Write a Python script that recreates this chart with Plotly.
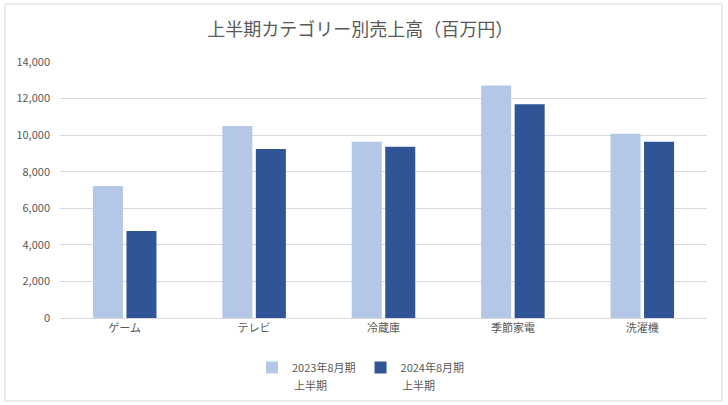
import plotly.graph_objects as go

categories = ["ゲーム", "テレビ", "冷蔵庫", "季節家電", "洗濯機"]
series_names = ["2023年8月期", "2024年8月期"]
series_subnames = ["上半期", "上半期"]
values_2023 = [7220, 10500, 9640, 12710, 10070]
values_2024 = [4760, 9240, 9370, 11690, 9640]
y_ticks = [0, 2000, 4000, 6000, 8000, 10000, 12000, 14000]

FONT = "Noto Sans CJK JP"
GREY = "#595959"

fig = go.Figure()
fig.add_trace(go.Bar(x=categories, y=values_2023, name=series_names[0],
                     marker=dict(color="#B4C7E7", line=dict(width=0))))
fig.add_trace(go.Bar(x=categories, y=values_2024, name=series_names[1],
                     marker=dict(color="#2F5597", line=dict(width=0))))

W, H = 728, 405
L, R, T, B = 60, 21, 62, 87
pw, ph = W - L - R, H - T - B

def px_x(x):
    return (x - L) / pw

def px_y(y):
    return (H - B - y) / ph

# second line of each legend label, placed under the legend text
sub_x = [292, 400]
annotations = [dict(text=s, xref="paper", yref="paper", x=px_x(xp), y=px_y(385),
                    xanchor="left", yanchor="middle", showarrow=False,
                    font=dict(family=FONT, size=11, color=GREY))
               for s, xp in zip(series_subnames, sub_x)]

fig.update_layout(
    width=W, height=H,
    margin=dict(l=L, r=R, t=T, b=B, autoexpand=False),
    paper_bgcolor="white", plot_bgcolor="white",
    font=dict(family=FONT, color=GREY, size=11),
    barmode="group", bargap=0.482, bargroupgap=0.104,
    title=dict(text="上半期カテゴリー別売上高（百万円）", x=0.495, xanchor="center",
               y=1 - 30 / H, yanchor="middle", yref="container",
               font=dict(family=FONT, size=18, color=GREY)),
    showlegend=True,
    legend=dict(orientation="h", x=px_x(364 - 3), xanchor="center", y=px_y(353), yanchor="top",
                valign="middle", font=dict(family=FONT, size=11, color=GREY),
                itemwidth=30, traceorder="normal", bgcolor="rgba(0,0,0,0)"),
    annotations=annotations,
    xaxis=dict(showline=True, linecolor="#D9D9D9", linewidth=1, ticks="",
               automargin=False,
               tickfont=dict(family=FONT, size=11, color=GREY), fixedrange=True),
    yaxis=dict(range=[0, 14000], tickvals=y_ticks, tickformat=",d",
               showgrid=True, gridcolor="#D9D9D9", gridwidth=1, zeroline=False,
               showline=False, ticks="", ticklabelstandoff=9, automargin=False,
               fixedrange=True,
               tickfont=dict(family=FONT, size=11, color=GREY)),
    shapes=[dict(type="rect", xref="paper", yref="paper",
                 x0=px_x(5), x1=px_x(722), y0=px_y(401), y1=px_y(4),
                 line=dict(color="#D9D9D9", width=1), fillcolor="rgba(0,0,0,0)",
                 layer="below")],
)

fig.write_html("out.html", config={"displayModeBar": False},
               post_script="document.body.style.margin='0';document.body.style.overflow='hidden';")
